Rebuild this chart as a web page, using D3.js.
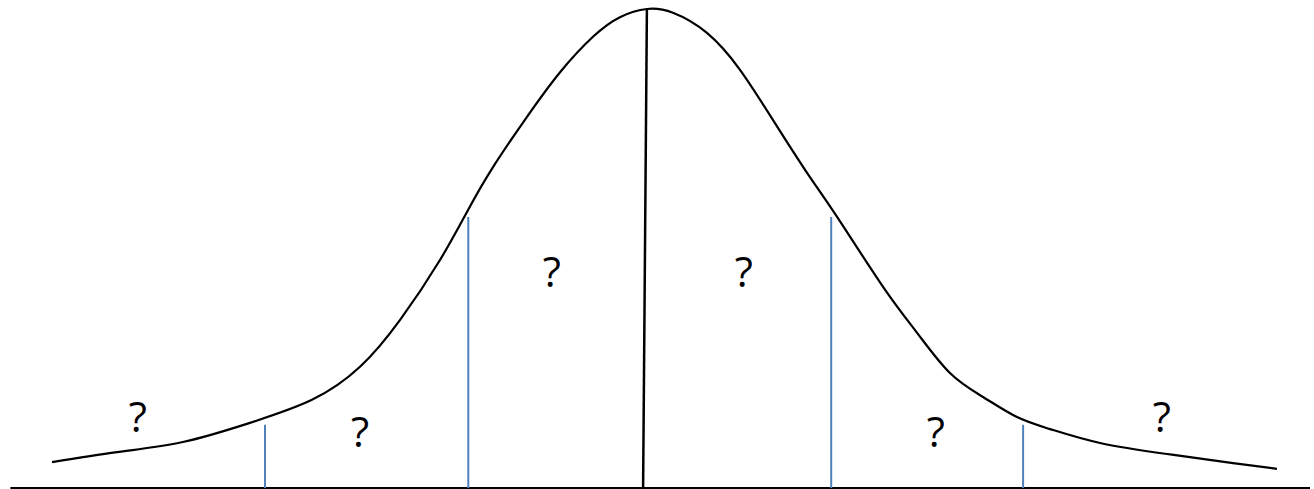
<!DOCTYPE html>
<html>
<head>
<meta charset="utf-8">
<script src="https://cdn.jsdelivr.net/npm/d3@7"></script>
<style>
  html, body { margin: 0; padding: 0; background: #fff; }
  svg { display: block; }
</style>
</head>
<body>
<div id="chart"></div>
<script>
// size of the page
var width = 1314;
var height = 489;

// curve: z = position in standard deviations, h = relative height
const curveZ = [-3.121, -2.779, -2.432, -2.079, -1.753, -1.500, -1.289, -1.079, -0.932, -0.800, -0.621, -0.447, -0.274, -0.132, 0.011, 0.147, 0.326, 0.500, 0.674, 0.853, 1.011, 1.253, 1.432, 1.605, 1.779, 1.958, 2.132, 2.395, 2.747, 3.095, 3.326];
const curveH = [0.054, 0.075, 0.096, 0.136, 0.184, 0.253, 0.351, 0.476, 0.580, 0.670, 0.775, 0.868, 0.942, 0.983, 1.000, 0.992, 0.950, 0.873, 0.768, 0.658, 0.566, 0.420, 0.324, 0.240, 0.190, 0.148, 0.123, 0.094, 0.071, 0.052, 0.040];

// blue cut lines
const cutZ = [-2.0, -0.93, 0.98, 1.99];
const cutH = [0.132, 0.566, 0.566, 0.132];

// mean line (drawn slightly slanted)
const meanZ = [0.01, -0.01];
const meanH = [1.0, 0];

// unknown area labels
const labelText = ["?", "?", "?", "?", "?", "?"];
const labelZ = [-2.67, -1.50, -0.49, 0.52, 1.53, 2.72];
const labelH = [0.117, 0.086, 0.42, 0.42, 0.086, 0.117];

// axis extent
const axisZ = [-3.34, 3.5];

let svg = d3.select("#chart")
  .append("svg")
  .attr("width", width)
  .attr("height", height);

let x = d3.scaleLinear().domain([-3.5, 3.5]).range([645 - 3.5 * 190, 645 + 3.5 * 190]);
let y = d3.scaleLinear().domain([0, 1]).range([488, 9]);

// baseline
svg.append("line")
  .attr("x1", x(axisZ[0]))
  .attr("x2", x(axisZ[1]))
  .attr("y1", y(0))
  .attr("y2", y(0))
  .style("stroke", "#000")
  .style("stroke-width", 2);

// blue lines
svg.selectAll(".cut")
  .data(cutZ)
  .enter()
  .append("line")
  .attr("class", "cut")
  .attr("x1", d => x(d))
  .attr("x2", d => x(d))
  .attr("y1", y(0))
  .attr("y2", (d, i) => y(cutH[i]))
  .style("stroke", "#4f81bd")
  .style("stroke-width", 2);

// mean line
svg.append("line")
  .attr("x1", x(meanZ[0]))
  .attr("y1", y(meanH[0]))
  .attr("x2", x(meanZ[1]))
  .attr("y2", y(meanH[1]))
  .style("stroke", "#000")
  .style("stroke-width", 2.5);

// bell curve
let line = d3.line()
  .x(d => x(d[0]))
  .y(d => y(d[1]))
  .curve(d3.curveNatural);

svg.append("path")
  .datum(d3.zip(curveZ, curveH))
  .attr("d", line)
  .style("fill", "none")
  .style("stroke", "#000")
  .style("stroke-width", 2.2);

// question marks
svg.selectAll(".lbl")
  .data(labelText)
  .enter()
  .append("text")
  .attr("class", "lbl")
  .attr("x", (d, i) => x(labelZ[i]))
  .attr("y", (d, i) => y(labelH[i]))
  .attr("text-anchor", "middle")
  .style("font-family", "'Open Sans', sans-serif")
  .style("font-size", "42px")
  .style("fill", "#000")
  .text(d => d);
</script>
</body>
</html>
